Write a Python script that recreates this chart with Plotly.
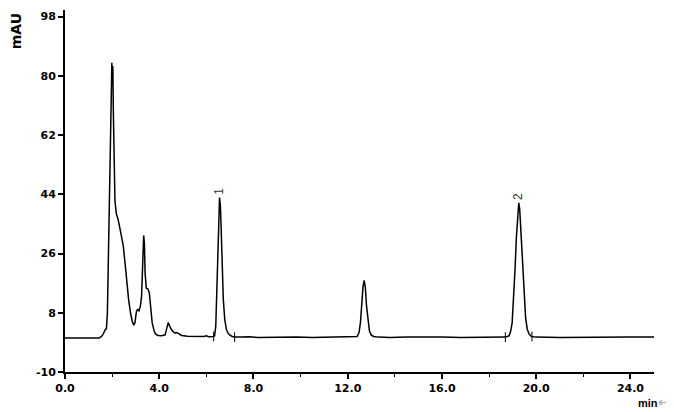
import plotly.graph_objects as go

# Retention time (min) and detector signal (mAU)
time_min = [0.0, 0.5, 1.0, 1.45, 1.55, 1.62, 1.70, 1.76, 1.80, 1.84, 1.88, 1.93, 1.97, 1.99, 2.01, 2.03,
            2.05, 2.08, 2.12, 2.18, 2.25, 2.32, 2.40, 2.47, 2.55, 2.62, 2.70, 2.78, 2.85, 2.92, 2.97,
            3.03, 3.08, 3.14, 3.20, 3.25, 3.30, 3.34, 3.37, 3.40, 3.45, 3.52, 3.58, 3.64, 3.70, 3.78,
            3.85, 3.95, 4.10, 4.25, 4.32, 4.38, 4.44, 4.52, 4.60, 4.68, 4.75, 4.82, 4.95, 5.20, 5.60,
            5.90, 6.00, 6.10, 6.30, 6.35, 6.40, 6.44, 6.48, 6.52, 6.56, 6.60, 6.64, 6.68, 6.72, 6.78,
            6.85, 6.92, 7.00, 7.10, 7.20, 7.50, 7.80, 8.20, 8.80, 9.30, 9.80, 10.5, 11.2, 11.8, 12.3,
            12.40, 12.48, 12.54, 12.60, 12.65, 12.70, 12.75, 12.80, 12.86, 12.92, 13.0, 13.1, 13.3,
            13.8, 14.5, 15.2, 16.0, 16.8, 17.5, 18.2, 18.7, 18.85, 18.92, 18.98, 19.04, 19.10, 19.16,
            19.22, 19.26, 19.30, 19.36, 19.42, 19.48, 19.55, 19.62, 19.70, 19.80, 20.0, 21.0, 22.0,
            23.0, 24.0, 25.0]
signal_mau = [0.3, 0.3, 0.3, 0.3, 0.8, 1.5, 2.8, 3.2, 8.0, 27.0, 45.0, 62.0, 80.0, 84.0, 78.0, 83.0,
              70.0, 55.0, 42.0, 38.0, 36.5, 34.0, 31.0, 28.5, 23.0, 17.0, 12.0, 8.0, 5.5, 4.2, 5.0,
              8.3, 9.0, 8.6, 10.0, 13.0, 24.0, 31.5, 29.0, 20.0, 15.5, 15.2, 14.0, 9.0, 5.0, 2.5,
              1.5, 1.1, 1.0, 1.3, 3.0, 5.0, 4.0, 2.8, 2.2, 1.8, 2.0, 1.6, 1.1, 0.9, 0.8,
              0.8, 1.0, 0.7, 0.8, 1.0, 4.0, 14.0, 28.0, 38.0, 43.0, 40.0, 30.0, 20.0, 12.0, 6.0,
              3.0, 1.8, 1.2, 0.8, 0.6, 0.6, 0.7, 0.5, 0.6, 0.5, 0.6, 0.5, 0.6, 0.5, 0.6,
              0.8, 2.0, 5.0, 11.0, 16.0, 17.8, 15.5, 10.0, 5.0, 2.5, 1.2, 0.8, 0.6,
              0.5, 0.6, 0.5, 0.6, 0.5, 0.6, 0.5, 0.6, 1.0, 2.5, 5.0, 12.0, 21.0, 31.0,
              39.0, 41.4, 39.5, 32.0, 22.0, 13.0, 6.5, 3.0, 1.5, 0.8, 0.6, 0.5, 0.6,
              0.5, 0.6, 0.6]

# Integration start/end markers
marker_times = [6.31, 7.20, 18.69, 19.82]
marker_vals = [0.8, 0.6, 0.6, 0.8]

# Peak labels
peak_labels = ["1", "2"]
peak_times = [6.56, 19.26]
peak_heights = [43.0, 41.4]

y_ticks = [-10, 8, 26, 44, 62, 80, 98]
y_tick_text = ["-10", "8", "26", "44", "62", "80", "98"]

fig = go.Figure()
fig.add_trace(go.Scatter(x=time_min, y=signal_mau, mode="lines",
                         line=dict(color="black", width=1.5), hoverinfo="skip"))
fig.add_trace(go.Scatter(x=marker_times, y=marker_vals, mode="markers",
                         marker=dict(symbol="line-ns", size=7,
                                     line=dict(color="black", width=1)),
                         hoverinfo="skip"))

for lab, t, h in zip(peak_labels, peak_times, peak_heights):
    fig.add_annotation(x=t, y=h, text=lab, showarrow=False, textangle=-90,
                       xanchor="center", yanchor="bottom", yshift=1,
                       font=dict(family="Liberation Sans", size=12, color="#333"))

tickfont = dict(family="DejaVu Sans", size=11, color="black", weight="bold")

# page body has an 8px margin, so the figure is shifted by 8px; compensate
fig.update_layout(
    width=666, height=404,
    margin=dict(l=57, r=20, t=2, b=40),
    paper_bgcolor="white", plot_bgcolor="white",
    showlegend=False,
    xaxis=dict(range=[0, 25], dtick=4, tick0=0, tickformat=".1f",
               showgrid=False, zeroline=False, showline=True,
               linecolor="black", linewidth=2, ticks="outside", ticklen=5,
               tickwidth=1.5, tickcolor="black", tickfont=tickfont,
               minor=dict(dtick=2, ticks="outside", ticklen=3, tickcolor="black",
                          tickwidth=1)),
    yaxis=dict(range=[-10, 100], tickvals=y_ticks, ticktext=y_tick_text,
               showgrid=False, zeroline=False, showline=True,
               linecolor="black", linewidth=2, ticks="outside", ticklen=5,
               tickwidth=1.5, tickcolor="black", tickfont=tickfont),
)

fig.add_annotation(xref="paper", yref="paper", x=-0.084, y=0.94, text="<b>mAU</b>",
                   textangle=-90, showarrow=False, xanchor="center", yanchor="middle",
                   font=dict(family="DejaVu Sans", size=14, color="black"))
fig.add_annotation(xref="paper", yref="paper", x=1.03, y=-0.083,
                   text="<b>min</b><span style='color:#aaaaaa;font-size:14px'>↵</span>",
                   showarrow=False, xanchor="right", yanchor="middle",
                   font=dict(family="Liberation Sans", size=11, color="black"))

fig.write_html("out.html")
